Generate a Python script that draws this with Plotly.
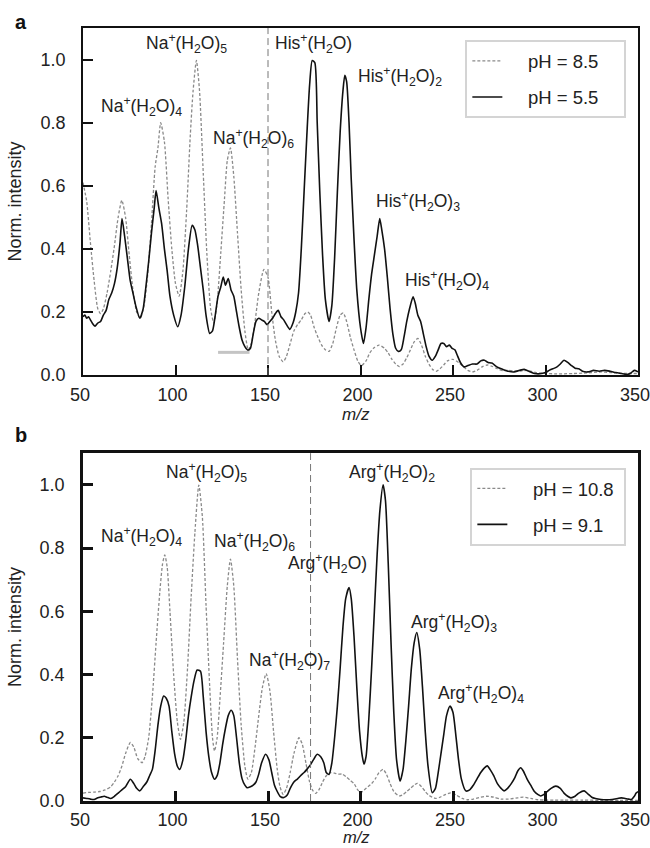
import plotly.graph_objects as go

# panel a: histidine, dashed pH 8.5 / solid pH 5.5
mz_a_85 = [50, 52, 54, 56, 58, 59.5, 61, 63, 65, 67, 69, 71, 73, 75, 77, 79, 81, 83, 85, 87, 89, 90.5, 92, 94, 96,
           98, 100, 102, 104, 106, 108, 109.5, 111.3, 113, 115, 117, 119, 120.7, 122.5, 124.5, 126.5, 128, 129.7,
           131.5, 133.5, 135.5, 137.5, 139.3, 141, 143, 145, 147.8, 150, 152, 154, 156, 158.2, 160, 162, 164, 166,
           168, 170, 171.5, 173, 175, 177, 179, 181, 183, 185, 187, 189, 190.7, 192.5, 194.5, 196.5, 198.5, 200.5,
           203, 205, 207, 210, 213, 215, 217, 219, 221, 223, 225, 227, 229, 231, 233, 235, 237, 239, 241, 243, 245,
           247, 250, 253, 256, 258, 260.5, 263, 266, 268.5, 271, 274, 277, 280, 285, 290, 295, 300, 305, 310, 315,
           320, 325, 330, 335, 340, 345, 350]
int_a_85 = [0.61, 0.55, 0.42, 0.30, 0.21, 0.195, 0.21, 0.26, 0.33, 0.41, 0.50, 0.554, 0.50, 0.38, 0.27, 0.20, 0.18,
            0.22, 0.32, 0.48, 0.66, 0.72, 0.80, 0.74, 0.56, 0.40, 0.29, 0.25, 0.33, 0.52, 0.76, 0.90, 0.997, 0.90,
            0.64, 0.38, 0.21, 0.165, 0.23, 0.39, 0.56, 0.68, 0.72, 0.63, 0.45, 0.27, 0.14, 0.08, 0.10, 0.17, 0.26,
            0.335, 0.31, 0.20, 0.11, 0.06, 0.042, 0.06, 0.10, 0.14, 0.16, 0.175, 0.195, 0.20, 0.19, 0.15, 0.12,
            0.095, 0.08, 0.075, 0.10, 0.15, 0.19, 0.197, 0.17, 0.12, 0.08, 0.045, 0.03, 0.045, 0.07, 0.085, 0.095,
            0.085, 0.07, 0.05, 0.035, 0.027, 0.035, 0.055, 0.08, 0.105, 0.116, 0.095, 0.06, 0.035, 0.018, 0.012,
            0.02, 0.032, 0.045, 0.05, 0.04, 0.025, 0.015, 0.01, 0.015, 0.027, 0.032, 0.028, 0.02, 0.014, 0.015,
            0.012, 0.015, 0.008, 0.005, 0.004, 0.004, 0.005, 0.006, 0.008, 0.01, 0.008, 0.006, 0.005, 0.005]

mz_a_55 = [50, 51, 52, 53, 54, 55, 56.5, 58, 59.5, 61, 62.5, 64, 65.5, 67, 68.5, 70, 71.1, 72.5, 74, 75.5, 77, 78.5,
           80.7, 82.5, 84, 85.5, 87, 88.5, 89.5, 91, 92.5, 94, 95.5, 97, 99, 101.2, 103, 105, 107, 109, 110.5, 112,
           113.5, 115, 116.5, 118.5, 120, 121.5, 123, 124.5, 125.8, 127, 128.5, 130, 131.5, 133, 134.5, 136, 137.5,
           139.1, 140.5, 142, 143.5, 145, 146.5, 148, 149.5, 151, 152.5, 154, 155.5, 157, 158.5, 160, 161.8, 163.5,
           165, 166.5, 168, 169.5, 171, 172.5, 173.9, 175.3, 176.6, 178, 179.5, 181, 183, 184.5, 186, 187.5, 189,
           190.5, 191.5, 192.5, 193.8, 195, 196.5, 198, 200, 201.6, 203, 204.5, 206, 207.5, 209, 210.4, 211.5, 213,
           214.5, 216, 217.5, 219, 220.5, 222, 223.5, 225, 226.5, 228.4, 229.5, 231, 232.5, 234, 235.5, 237, 238.8,
           240.5, 242, 243.5, 245, 246.5, 248, 249.5, 251, 252.5, 254, 256, 258, 260.5, 263, 265, 267, 269, 271,
           274, 277, 280, 283, 286, 288.5, 291, 294, 297, 300, 302, 304, 306, 308, 310, 312, 314, 316, 318, 320,
           323, 326, 329, 332, 335, 338, 341, 344, 346, 348, 350]
int_a_55 = [0.185, 0.19, 0.18, 0.185, 0.175, 0.165, 0.155, 0.165, 0.17, 0.19, 0.205, 0.24, 0.26, 0.29, 0.34, 0.42,
            0.496, 0.44, 0.37, 0.30, 0.26, 0.22, 0.18, 0.21, 0.28, 0.36, 0.45, 0.53, 0.585, 0.53, 0.48, 0.40, 0.33,
            0.25, 0.19, 0.153, 0.19, 0.28, 0.40, 0.475, 0.46, 0.41, 0.34, 0.27, 0.19, 0.132, 0.14, 0.19, 0.25, 0.28,
            0.311, 0.285, 0.306, 0.27, 0.25, 0.20, 0.15, 0.11, 0.09, 0.079, 0.085, 0.13, 0.17, 0.18, 0.175, 0.17,
            0.16, 0.17, 0.18, 0.195, 0.205, 0.185, 0.175, 0.16, 0.145, 0.165, 0.20, 0.26, 0.40, 0.58, 0.76, 0.92,
            0.997, 0.99, 0.80, 0.58, 0.38, 0.24, 0.17, 0.22, 0.37, 0.58, 0.77, 0.90, 0.95, 0.93, 0.80, 0.62, 0.43,
            0.27, 0.15, 0.10, 0.15, 0.24, 0.32, 0.38, 0.44, 0.496, 0.46, 0.40, 0.31, 0.21, 0.13, 0.085, 0.075, 0.08,
            0.12, 0.17, 0.21, 0.248, 0.23, 0.19, 0.17, 0.13, 0.09, 0.06, 0.047, 0.06, 0.08, 0.10, 0.10, 0.09, 0.095,
            0.085, 0.08, 0.06, 0.04, 0.026, 0.03, 0.035, 0.035, 0.045, 0.047, 0.04, 0.038, 0.025, 0.018, 0.012, 0.01,
            0.015, 0.018, 0.012, 0.005, 0.004, 0.008, 0.015, 0.02, 0.025, 0.035, 0.047, 0.04, 0.03, 0.022, 0.02,
            0.012, 0.01, 0.015, 0.012, 0.015, 0.012, 0.008, 0.005, 0.002, 0.006, 0.015, 0.01]

# panel b: arginine, dashed pH 10.8 / solid pH 9.1
mz_b_108 = [50, 53, 56, 59, 62, 65, 67, 69, 71, 73, 75.6, 77.5, 79.5, 81.9, 83.5, 85.5, 87.5, 89.5, 91.5, 93, 94.2,
            95.5, 97, 99, 101, 102.7, 104.5, 106.5, 108.5, 110.5, 112.6, 114.5, 116.5, 118.5, 120, 121.1, 122.5, 124,
            126, 128, 129.7, 131.5, 133.5, 135.5, 137.5, 139.1, 141, 143, 145, 147, 149, 151, 153, 155, 156.5, 158.2,
            160, 162, 164, 166.7, 168.5, 170.5, 172.5, 174, 175.7, 177.5, 179.5, 181.5, 183.8, 186, 188, 190.2,
            192.5, 194.5, 196.5, 198.5, 200.1, 202, 204, 206, 208, 210, 212.2, 214, 216, 218, 220.9, 223, 225, 227,
            229, 230.8, 233, 235, 237, 240.7, 243, 245, 248.8, 252, 255, 258, 261, 265, 268, 272, 276, 280, 285, 288,
            292, 296, 300, 305, 310, 320, 330, 340, 350]
int_b_108 = [0.025, 0.027, 0.028, 0.03, 0.035, 0.045, 0.06, 0.08, 0.11, 0.15, 0.185, 0.17, 0.135, 0.121, 0.14, 0.20,
             0.33, 0.50, 0.66, 0.75, 0.778, 0.74, 0.60, 0.40, 0.25, 0.195, 0.25, 0.42, 0.65, 0.85, 0.999, 0.90, 0.62,
             0.36, 0.20, 0.158, 0.20, 0.32, 0.50, 0.68, 0.765, 0.68, 0.45, 0.24, 0.11, 0.069, 0.09, 0.17, 0.27, 0.36,
             0.403, 0.35, 0.22, 0.10, 0.045, 0.021, 0.04, 0.09, 0.15, 0.20, 0.18, 0.12, 0.06, 0.035, 0.024, 0.035,
             0.06, 0.08, 0.09, 0.088, 0.085, 0.085, 0.075, 0.065, 0.055, 0.035, 0.026, 0.035, 0.045, 0.055, 0.07,
             0.09, 0.10, 0.085, 0.055, 0.03, 0.016, 0.02, 0.03, 0.04, 0.05, 0.056, 0.045, 0.03, 0.018, 0.008, 0.012,
             0.018, 0.026, 0.018, 0.008, 0.004, 0.006, 0.012, 0.015, 0.012, 0.006, 0.006, 0.01, 0.012, 0.008, 0.004,
             0.003, 0.003, 0.003, 0.003, 0.002, 0.002, 0.002]

mz_b_91 = [50, 52, 54, 56, 58, 60, 61.5, 63, 65, 67, 69, 71, 73, 75.6, 77.5, 79, 80.7, 82.5, 84.5, 86, 87.5, 89, 90.5,
           92, 93.6, 95, 96.5, 98, 99.5, 101, 102.3, 104, 105.5, 107, 108.5, 110, 111.7, 113.5, 115, 116.5, 118,
           119.5, 121.1, 122.5, 124, 125.5, 127, 128.5, 130.1, 131.5, 133, 134.5, 136, 137.5, 138.7, 140.5, 142,
           143.5, 145, 146.5, 148.7, 150.5, 152, 153.5, 155, 156.5, 158.6, 160.5, 162, 164, 166, 167.6, 169.5, 171,
           173, 174.5, 176.6, 178.5, 180.2, 181.5, 183, 184.5, 186, 187.5, 189, 190.5, 192, 193.8, 195, 196.5, 198,
           199.5, 201, 201.9, 203, 204.5, 206, 207.5, 209, 210.5, 212.2, 213.5, 215, 216.5, 218, 219.5, 221.4, 223,
           224.5, 226, 227.5, 229, 230.4, 232, 233.5, 235, 236.5, 238.8, 240.5, 242, 243.5, 245, 246.5, 248.4, 250,
           251.5, 253, 254.5, 256.9, 259, 261, 263, 265, 267, 268.6, 270, 272, 274, 276, 277.6, 279.5, 281.5, 283.5,
           285, 286.6, 288, 290, 292, 294, 296, 297.4, 299, 301, 303, 305.6, 308, 310, 312, 313.7, 316, 318, 320.9,
           323, 325, 327, 330, 333, 336, 339, 341, 343, 345, 346.5, 348, 349, 350]
int_b_91 = [0.01, 0.008, 0.006, 0.005, 0.01, 0.013, 0.015, 0.012, 0.008, 0.015, 0.025, 0.035, 0.045, 0.069, 0.055,
            0.04, 0.032, 0.045, 0.06, 0.08, 0.10, 0.16, 0.24, 0.30, 0.332, 0.325, 0.30, 0.22, 0.15, 0.11, 0.10, 0.13,
            0.19, 0.27, 0.33, 0.38, 0.414, 0.41, 0.33, 0.22, 0.14, 0.09, 0.069, 0.08, 0.12, 0.18, 0.23, 0.27, 0.287,
            0.27, 0.20, 0.12, 0.07, 0.05, 0.042, 0.045, 0.05, 0.06, 0.085, 0.12, 0.148, 0.13, 0.09, 0.05, 0.03,
            0.015, 0.011, 0.02, 0.04, 0.06, 0.07, 0.08, 0.09, 0.10, 0.115, 0.13, 0.148, 0.14, 0.12, 0.09, 0.084,
            0.12, 0.20, 0.30, 0.42, 0.55, 0.64, 0.675, 0.64, 0.52, 0.36, 0.22, 0.14, 0.116, 0.14, 0.26, 0.42, 0.60,
            0.78, 0.92, 1.0, 0.95, 0.75, 0.50, 0.28, 0.13, 0.063, 0.10, 0.19, 0.30, 0.42, 0.50, 0.533, 0.48, 0.36,
            0.22, 0.11, 0.026, 0.04, 0.09, 0.15, 0.21, 0.27, 0.30, 0.28, 0.21, 0.13, 0.07, 0.032, 0.035, 0.05, 0.07,
            0.09, 0.105, 0.111, 0.10, 0.08, 0.055, 0.04, 0.032, 0.04, 0.055, 0.075, 0.095, 0.105, 0.095, 0.07, 0.05,
            0.03, 0.02, 0.016, 0.02, 0.03, 0.04, 0.047, 0.04, 0.025, 0.015, 0.01, 0.015, 0.025, 0.032, 0.022, 0.012,
            0.008, 0.005, 0.004, 0.005, 0.008, 0.01, 0.008, 0.006, 0.005, 0.015, 0.025, 0.03]

labels_a = ["Na<sup>+</sup>(H<sub>2</sub>O)<sub>4</sub>", "Na<sup>+</sup>(H<sub>2</sub>O)<sub>5</sub>",
            "Na<sup>+</sup>(H<sub>2</sub>O)<sub>6</sub>", "His<sup>+</sup>(H<sub>2</sub>O)",
            "His<sup>+</sup>(H<sub>2</sub>O)<sub>2</sub>", "His<sup>+</sup>(H<sub>2</sub>O)<sub>3</sub>",
            "His<sup>+</sup>(H<sub>2</sub>O)<sub>4</sub>"]
label_x_a = [81.5, 105.8, 141.9, 174.8, 221.3, 231.2, 247]
label_y_a = [0.85, 1.05, 0.75, 1.05, 0.945, 0.55, 0.30]

labels_b = ["Na<sup>+</sup>(H<sub>2</sub>O)<sub>4</sub>", "Na<sup>+</sup>(H<sub>2</sub>O)<sub>5</sub>",
            "Na<sup>+</sup>(H<sub>2</sub>O)<sub>6</sub>", "Na<sup>+</sup>(H<sub>2</sub>O)<sub>7</sub>",
            "Arg<sup>+</sup>(H<sub>2</sub>O)", "Arg<sup>+</sup>(H<sub>2</sub>O)<sub>2</sub>",
            "Arg<sup>+</sup>(H<sub>2</sub>O)<sub>3</sub>", "Arg<sup>+</sup>(H<sub>2</sub>O)<sub>4</sub>"]
label_x_b = [81.5, 116.6, 142.8, 161.7, 182.4, 217.2, 250.5, 265.4]
label_y_b = [0.835, 1.04, 0.82, 0.445, 0.75, 1.04, 0.565, 0.34]

FONT = "Liberation Sans, Arial, sans-serif"
DASH_GRAY = "#8a8a8a"
NB = "\u00a0"

fig = go.Figure()

fig.add_scatter(x=mz_a_85, y=int_a_85, mode="lines", name=NB * 4 + "pH = 8.5" + NB * 4, legend="legend",
                legendgroup="a1",
                line=dict(color=DASH_GRAY, width=1.3, dash="3px,2px", shape="spline", smoothing=0.6),
                xaxis="x", yaxis="y")
fig.add_scatter(x=mz_a_55, y=int_a_55, mode="lines", name=NB * 4 + "pH = 5.5" + NB * 4, legend="legend",
                legendgroup="a2",
                line=dict(color="#111111", width=1.6, shape="spline", smoothing=0.6),
                xaxis="x", yaxis="y")
fig.add_scatter(x=mz_b_108, y=int_b_108, mode="lines", name=NB * 4 + "pH = 10.8" + NB * 1, legend="legend2",
                legendgroup="b1",
                line=dict(color=DASH_GRAY, width=1.3, dash="3px,2px", shape="spline", smoothing=0.6),
                xaxis="x2", yaxis="y2")
fig.add_scatter(x=mz_b_91, y=int_b_91, mode="lines", name=NB * 4 + "pH = 9.1" + NB * 1, legend="legend2",
                legendgroup="b2",
                line=dict(color="#111111", width=1.6, shape="spline", smoothing=0.6),
                xaxis="x2", yaxis="y2")

for txt, x, y in zip(labels_a, label_x_a, label_y_a):
    fig.add_annotation(text=txt, x=x, y=y, xref="x", yref="y", showarrow=False,
                       font=dict(family=FONT, size=17.5, color="#222"))
for txt, x, y in zip(labels_b, label_x_b, label_y_b):
    fig.add_annotation(text=txt, x=x, y=y, xref="x2", yref="y2", showarrow=False,
                       font=dict(family=FONT, size=17.5, color="#222"))

# panel letters and x-axis titles
fig.add_annotation(text="<b>a</b>", x=-0.126, y=1.008, xref="paper", yref="paper", xanchor="left",
                   yanchor="middle", showarrow=False, font=dict(family=FONT, size=20, color="#111"))
fig.add_annotation(text="<b>b</b>", x=-0.126, y=0.4735, xref="paper", yref="paper", xanchor="left",
                   yanchor="middle", showarrow=False, font=dict(family=FONT, size=20, color="#111"))
fig.add_annotation(text="<i>m/z</i>", x=0.492, y=0.500, xref="paper", yref="paper", showarrow=False,
                   xanchor="center", yanchor="middle", font=dict(family=FONT, size=17, color="#222"))
fig.add_annotation(text="<i>m/z</i>", x=0.492, y=-0.0472, xref="paper", yref="paper", showarrow=False,
                   xanchor="center", yanchor="middle", borderpad=0,
                   font=dict(family=FONT, size=16.5, color="#222"))

# vertical guide lines and the grey bar
fig.add_shape(type="line", x0=150, x1=150, y0=0, y1=1, xref="x", yref="y domain",
              line=dict(color="#777", width=1, dash="7px,4px"))
fig.add_shape(type="line", x0=173, x1=173, y0=0, y1=1, xref="x2", yref="y2 domain",
              line=dict(color="#777", width=1, dash="7px,4px"))
fig.add_shape(type="line", x0=123, x1=140, y0=0.072, y1=0.072, xref="x", yref="y",
              line=dict(color="#c4c4c4", width=3))


def xaxis_style(anchor, lw, standoff):
    return dict(range=[50, 350], tickvals=[50, 100, 150, 200, 250, 300, 350], ticks="inside", ticklen=10,
                tickwidth=lw, tickcolor="#111", showline=True, linecolor="#111", linewidth=lw, mirror=True,
                showgrid=False, zeroline=False, anchor=anchor, automargin=False,
                ticklabelstandoff=standoff, ticklabelshift=-3, ticklabeloverflow="allow",
                tickfont=dict(family=FONT, size=18, color="#222"))


def yaxis_style(domain, anchor, lw):
    return dict(range=[0, 1.1], domain=domain, tickvals=[0, 0.2, 0.4, 0.6, 0.8, 1.0],
                ticktext=["0.0", "0.2", "0.4", "0.6", "0.8", "1.0"], ticks="inside", ticklen=10,
                tickwidth=lw, tickcolor="#111", showline=True, linecolor="#111", linewidth=lw, mirror=True,
                showgrid=False, zeroline=False, anchor=anchor, automargin=False, ticklabelstandoff=12,
                tickfont=dict(family=FONT, size=18, color="#222"),
                title=dict(text="Norm. intensity", font=dict(family=FONT, size=18, color="#222"), standoff=14))


legend_style = dict(xanchor="right", yanchor="top", bgcolor="white", bordercolor="#d4d4d4", borderwidth=2,
                    font=dict(family=FONT, size=18.5, color="#222"), tracegroupgap=9)

fig.update_layout(
    template="none",
    width=650, height=848,
    margin=dict(l=83, r=12, t=28, b=47),
    paper_bgcolor="white", plot_bgcolor="white",
    font=dict(family=FONT, color="#222"),
    showlegend=True,
    xaxis=xaxis_style("y", 1.7, 2),
    yaxis=yaxis_style([0.551, 1.0], "x", 1.7),
    xaxis2=xaxis_style("y2", 2.6, 1),
    yaxis2=yaxis_style([0.0, 0.45], "x2", 2.6),
    legend=dict(x=0.979, y=0.984, **legend_style),
    legend2=dict(x=0.979, y=0.431, **legend_style),
)

# the page body has a default 8px margin; drop it so the figure sits at the window corner
fig.write_html("out.html", config={"displayModeBar": False},
               post_script="document.body.style.margin = '0px';")
